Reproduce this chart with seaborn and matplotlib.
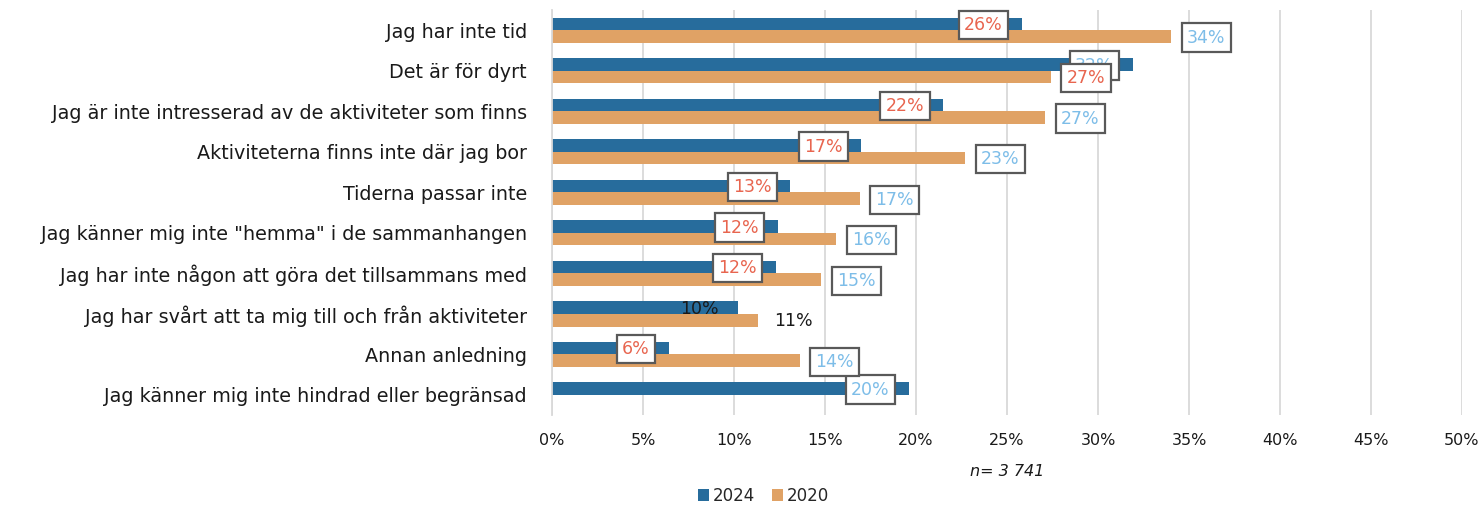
import numpy as np
import pandas as pd
import seaborn as sns
import matplotlib.pyplot as plt
from matplotlib.ticker import PercentFormatter

# data (percent)
categories = [
    'Jag har inte tid',
    'Det är för dyrt',
    'Jag är inte intresserad av de aktiviteter som finns',
    'Aktiviteterna finns inte där jag bor',
    'Tiderna passar inte',
    'Jag känner mig inte "hemma" i de sammanhangen',
    'Jag har inte någon att göra det tillsammans med',
    'Jag har svårt att ta mig till och från aktiviteter',
    'Annan anledning',
    'Jag känner mig inte hindrad eller begränsad',
]
vals_2024 = [25.8, 31.9, 21.5, 17.0, 13.1, 12.4, 12.3, 10.2, 6.4, 19.6]
vals_2020 = [34.0, 27.4, 27.1, 22.7, 16.9, 15.6, 14.8, 11.3, 13.6, np.nan]
years = ['2024', '2020']
n_text = 'n= 3 741'

# label text colours (r = red, b = light blue, k = plain black without box)
col_2024 = ['r', 'b', 'r', 'r', 'r', 'r', 'r', 'k', 'r', 'b']
col_2020 = ['b', 'r', 'b', 'b', 'b', 'b', 'b', 'k', 'b', 'b']
txt_colors = {'r': '#E8654F', 'b': '#7DBDE8', 'k': '#1A1A1A'}

df = pd.DataFrame({
    'kategori': categories * 2,
    'andel': vals_2024 + vals_2020,
    'ar': [years[0]] * len(categories) + [years[1]] * len(categories),
})

sns.set_style('white')
plt.rcParams['font.family'] = ['DejaVu Sans']

fig, ax = plt.subplots(figsize=(14.82, 5.07), dpi=100)
fig.subplots_adjust(left=0.3725, right=0.9865, top=0.98, bottom=0.181)

sns.barplot(data=df, y='kategori', x='andel', hue='ar', hue_order=years,
            palette=['#276C9C', '#E0A265'], width=0.62, orient='h',
            saturation=1, linewidth=0, ax=ax, legend=True)

ax.set_xlim(0, 50)
ax.set_xticks(np.arange(0, 51, 5))
ax.xaxis.set_major_formatter(PercentFormatter(decimals=0))
ax.set_ylim(len(categories) - 0.5, -0.5)
ax.grid(axis='x', color='#D9D9D9', linewidth=1.3)
ax.set_axisbelow(True)
for s in ['top', 'right', 'bottom']:
    ax.spines[s].set_visible(False)
ax.spines['left'].set_color('#D9D9D9')
ax.spines['left'].set_linewidth(1.3)
ax.set_yticks(np.arange(-0.5, len(categories), 1), minor=True)
ax.tick_params(axis='y', which='major', length=0, labelsize=13.8, pad=18, labelcolor='#1A1A1A')
ax.tick_params(axis='y', which='minor', length=5, color='#D9D9D9', width=1.3)
ax.tick_params(axis='x', length=0, labelsize=11.5, pad=13, labelcolor='#1A1A1A')
ax.set_ylabel('')
ax.set_xlabel(n_text, fontsize=11.5, style='italic', labelpad=11, color='#1A1A1A')

# value labels
def put_labels(container, colors, inside):
    for bar, c in zip(container, colors):
        w = bar.get_width()
        if np.isnan(w) or w == 0:
            continue
        y = bar.get_y() + bar.get_height() / 2
        box = None
        if c != 'k':
            box = dict(boxstyle='square,pad=0.3', fc='white', ec='#595959', lw=1.6)
        if inside:
            ax.annotate(f'{w:.0f}%', (w, y), xytext=(-19, -1), textcoords='offset pixels',
                        ha='right', va='center', fontsize=12.5, color=txt_colors[c],
                        bbox=box, zorder=5)
        else:
            ax.annotate(f'{w:.0f}%', (w, y), xytext=(16, -1), textcoords='offset pixels',
                        ha='left', va='center', fontsize=12.5, color=txt_colors[c],
                        bbox=box, zorder=6)

put_labels(ax.containers[0], col_2024, True)
put_labels(ax.containers[1], col_2020, False)

handles, labels = ax.get_legend_handles_labels()
ax.legend_.remove()
fig.legend(handles, labels, loc='lower center', bbox_to_anchor=(0.515, -0.025), ncol=2,
           frameon=False, fontsize=12, handlelength=0.7, handleheight=0.7,
           handletextpad=0.2, columnspacing=1.0)

plt.savefig('out.png', dpi=100)
